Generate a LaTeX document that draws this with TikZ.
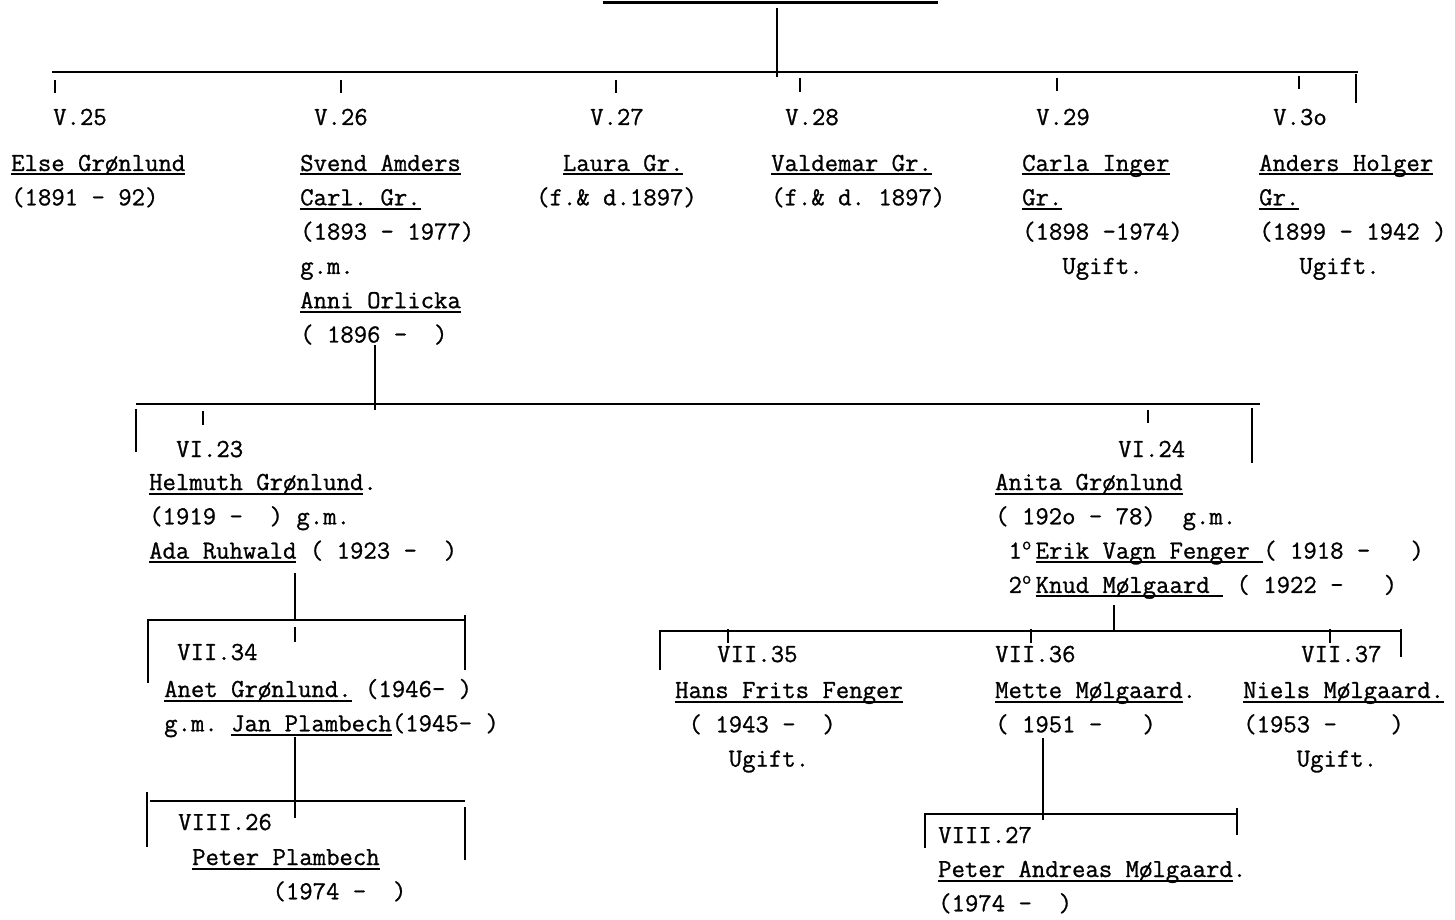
\documentclass[tikz,border=0pt]{standalone}
\usepackage{fontspec}
\newfontfamily\typew{lmmono12-regular.otf}[FakeBold=0.9]

% typewriter underline and the raised "o" of 1o, 2o
\newcommand\undl[1]{\setbox0\hbox{#1}\rlap{\rule[-4.5pt]{\wd0}{2pt}}\box0\relax}
\newcommand\ordo{\makebox[0.525em][l]{\textsuperscript{o}}}
\newcommand\famblk[1]{\begin{tabular}[t]{@{}l@{}}#1\end{tabular}}

\begin{document}
\frenchspacing
\begin{tikzpicture}[x=1pt,y=-1pt,
    gen/.style={anchor=base west,inner sep=0pt,font=\typew\fontsize{26}{34.3}\selectfont},
    person/.style={gen},
    bar/.style={line width=2.4pt},
    tick/.style={line width=2pt}]
    \useasboundingbox (0,0) rectangle (1455,920);

    % generation V
    \node[gen]    (g25)      at (53,125)    {V.25};
    \node[gen]    (g26)      at (314,125)   {V.26};
    \node[gen]    (g27)      at (590,125)   {V.27};
    \node[gen]    (g28)      at (785,125)   {V.28};
    \node[gen]    (g29)      at (1036,125)  {V.29};
    \node[gen]    (g30)      at (1273,125)  {V.3o};
    \node[person] (else)     at (11,171)    {\famblk{\undl{Else Grønlund}\\(1891 - 92)}};
    \node[person] (svend)    at (300,171)   {\famblk{\undl{Svend Amders}\\\undl{Carl. Gr.}\\(1893 - 1977)\\g.m.\\\undl{Anni Orlicka}\\( 1896 -~~)}};
    \node[person] (laura)    at (536,171)   {\famblk{~~\undl{Laura Gr.}\\(f.\& d.1897)}};
    \node[person] (valdemar) at (771,171)   {\famblk{\undl{Valdemar Gr.}\\(f.\& d. 1897)}};
    \node[person] (carla)    at (1022,171)  {\famblk{\undl{Carla Inger}\\\undl{Gr.}\\(1898 -1974)\\~~~Ugift.}};
    \node[person] (anders)   at (1259,171)  {\famblk{\undl{Anders Holger}\\\undl{Gr.}\\(1899 - 1942 )\\~~~Ugift.}};

    % generation VI
    \node[gen]    (g623)     at (176,457)   {VI.23};
    \node[gen]    (g624)     at (1118,457)  {VI.24};
    \node[person] (helmuth)  at (149,490)   {\famblk{\undl{Helmuth Grønlund}.\\(1919 -~~) g.m.\\\undl{Ada Ruhwald} ( 1923 -~~)}};
    \node[person] (anita)    at (995,490)   {\famblk{\undl{Anita Grønlund}\\( 192o - 78)~~g.m.\\~1\ordo\undl{Erik Vagn Fenger~}( 1918 -~~~)\\~2\ordo\undl{Knud Mølgaard~}~( 1922 -~~~)}};

    % generation VII
    \node[gen]    (g734)     at (177,660)   {VII.34};
    \node[gen]    (g735)     at (717,662)   {VII.35};
    \node[gen]    (g736)     at (995,662)   {VII.36};
    \node[gen]    (g737)     at (1301,662)  {VII.37};
    \node[person] (anet)     at (164,697)   {\famblk{\undl{Anet Grønlund.} (1946- )\\g.m. \undl{Jan Plambech}(1945- )}};
    \node[person] (hans)     at (675,698)   {\famblk{\undl{Hans Frits Fenger}\\~( 1943 -~~)\\~~~~Ugift.}};
    \node[person] (mette)    at (995,698)   {\famblk{\undl{Mette Mølgaard}.\\( 1951 -~~~)}};
    \node[person] (niels)    at (1243,698)  {\famblk{\undl{Niels Mølgaard.}\\(1953 -~~~~)\\~~~~Ugift.}};

    % generation VIII
    \node[gen]    (g826)     at (178,830)   {VIII.26};
    \node[gen]    (g827)     at (938,843)   {VIII.27};
    \node[person] (peterp)   at (192,865)   {\famblk{\undl{Peter Plambech}\\~~~~~~(1974 -~~)}};
    \node[person] (petera)   at (938,877)   {\famblk{\undl{Peter Andreas Mølgaard}.\\(1974 -~~)}};

    % family bars
    \coordinate (rootL)  at (603,3);
    \coordinate (rootR)  at (938,3);
    \coordinate (root)   at (777,8);
    \coordinate (barV)   at (777,77);
    \coordinate (svendD) at (375,345);
    \coordinate (barVI)  at (375,410);
    \coordinate (adaD)   at (295,573);
    \coordinate (barVIIa) at (295,620);
    \coordinate (knudD)  at (1114,605);
    \coordinate (barVIIb) at (1114,631);
    \coordinate (janD)   at (295,737);
    \coordinate (barVIIIa) at (295,818);
    \coordinate (metteD) at (1043,738);
    \coordinate (barVIIIb) at (1043,820);

    \draw[line width=3pt] (rootL) -- (rootR);
    \draw[bar] (root) -- (barV);
    \draw[bar] (52,72) -- (1358,72);
    \draw[tick] (55,80) -- (55,93)  (341,80) -- (341,93)  (616,80) -- (616,93)
                (800,78) -- (800,92)  (1057,78) -- (1057,91)  (1299,76) -- (1299,89)
                (1356,74) -- (1356,103);

    \draw[bar] (svendD) -- (barVI);
    \draw[bar] (136,404) -- (1260,404);
    \draw[tick] (136,409) -- (136,452)  (203,411) -- (203,425)
                (1148,410) -- (1148,423)  (1252,408) -- (1252,463);

    \draw[bar] (adaD) -- (barVIIa);
    \draw[bar] (148,683) -- (148,620) -- (465,620);
    \draw[tick] (465,615) -- (465,670)  (295,627) -- (295,642);

    \draw[bar] (janD) -- (barVIIIa);
    \draw[bar] (150,801) -- (465,801);
    \draw[tick] (147,792) -- (147,847)  (465,807) -- (465,860);

    \draw[bar] (knudD) -- (barVIIb);
    \draw[bar] (660,670) -- (660,631) -- (1401,631);
    \draw[tick] (728,629) -- (728,643)  (1031,629) -- (1031,643)  (1330,629) -- (1330,643)
                (1401,629) -- (1401,657);

    \draw[bar] (metteD) -- (barVIIIb);
    \draw[bar] (925,848) -- (925,814) -- (1237,814);
    \draw[tick] (1237,808) -- (1237,835);
\end{tikzpicture}
\end{document}
